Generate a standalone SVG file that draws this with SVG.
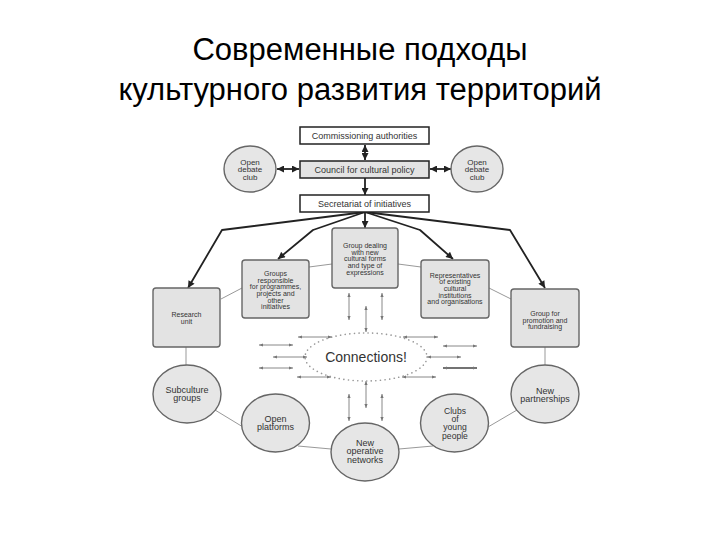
<svg xmlns="http://www.w3.org/2000/svg" width="720" height="540" viewBox="0 0 720 540">
<style>
.title{font-family:"Liberation Sans",Arial,sans-serif;font-size:31px;fill:#000;text-anchor:middle}
.tb{fill:#fff;stroke:#222;stroke-width:1.5}
.tg{fill:#e3e3e3;stroke:#222;stroke-width:1.5}
.gb{fill:#e3e3e3;stroke:#666;stroke-width:1.4}
.ge{fill:#e6e6e6;stroke:#666;stroke-width:1.4}
.t9{font-family:"Liberation Sans",Arial,sans-serif;font-size:9px;fill:#333;text-anchor:middle}
.t8{font-family:"Liberation Sans",Arial,sans-serif;font-size:8px;fill:#333;text-anchor:middle}
.t7{font-family:"Liberation Sans",Arial,sans-serif;font-size:7px;fill:#333;text-anchor:middle}
.tc{font-family:"Liberation Sans",Arial,sans-serif;font-size:14px;fill:#333;text-anchor:middle}
.thick{fill:none;stroke:#222;stroke-width:1.8;stroke-linejoin:round}
.thin{fill:none;stroke:#999;stroke-width:1}
.sm{fill:none;stroke:#888;stroke-width:1}
.dot{fill:none;stroke:#999;stroke-width:1.6;stroke-dasharray:0.1 4.5;stroke-linecap:round}
</style>
<defs>
<marker id="ah" viewBox="0 0 10 10" refX="10" refY="5" markerWidth="8" markerHeight="7" markerUnits="userSpaceOnUse" orient="auto-start-reverse"><path d="M0,0 L10,5 L0,10 z" fill="#222"/></marker>
<marker id="sh" viewBox="0 0 10 10" refX="10" refY="5" markerWidth="5" markerHeight="4" markerUnits="userSpaceOnUse" orient="auto-start-reverse"><path d="M0,1 L10,5 L0,9 z" fill="#777"/></marker>
</defs>
<rect width="720" height="540" fill="#fff"/>
<text class="title" x="360" y="60">Современные подходы</text>
<text class="title" x="360" y="100">культурного развития территорий</text>

<g id="connectors">
<line class="thick" x1="365" y1="145" x2="365" y2="160" marker-start="url(#ah)" marker-end="url(#ah)"/>
<line class="thick" x1="365" y1="178" x2="365" y2="195" marker-end="url(#ah)"/>
<line class="thick" x1="365" y1="212" x2="365" y2="228" marker-end="url(#ah)"/>
<line class="thick" x1="277" y1="169" x2="299" y2="169" marker-start="url(#ah)" marker-end="url(#ah)"/>
<line class="thick" x1="430" y1="169" x2="451" y2="169" marker-start="url(#ah)" marker-end="url(#ah)"/>
<polyline class="thick" points="365,212 222,230 188,288" marker-end="url(#ah)"/>
<polyline class="thick" points="365,212 313,230 278,259" marker-end="url(#ah)"/>
<polyline class="thick" points="365,212 420,230 453,259" marker-end="url(#ah)"/>
<polyline class="thick" points="365,212 510,230 545,288" marker-end="url(#ah)"/>
<line class="thin" x1="221" y1="299" x2="242" y2="288"/>
<line class="thin" x1="309" y1="267" x2="332" y2="264"/>
<line class="thin" x1="398" y1="264" x2="421" y2="267"/>
<line class="thin" x1="489" y1="288" x2="511" y2="299"/>
<line class="thin" x1="186" y1="347" x2="186" y2="365"/>
<line class="thin" x1="545" y1="347" x2="545" y2="365"/>
<line class="thin" x1="215" y1="410" x2="243" y2="427"/>
<line class="thin" x1="298" y1="446" x2="331" y2="449"/>
<line class="thin" x1="399" y1="449" x2="433" y2="446"/>
<line class="thin" x1="488" y1="427" x2="517" y2="410"/>
<g class="sm">
<line x1="349" y1="293" x2="349" y2="320" marker-start="url(#sh)" marker-end="url(#sh)"/>
<line x1="366" y1="306" x2="366" y2="332" marker-start="url(#sh)" marker-end="url(#sh)"/>
<line x1="382" y1="293" x2="382" y2="320" marker-start="url(#sh)" marker-end="url(#sh)"/>
<line x1="349" y1="394" x2="349" y2="421" marker-start="url(#sh)" marker-end="url(#sh)"/>
<line x1="366" y1="381" x2="366" y2="408" marker-start="url(#sh)" marker-end="url(#sh)"/>
<line x1="382" y1="394" x2="382" y2="421" marker-start="url(#sh)" marker-end="url(#sh)"/>
<line x1="298" y1="337" x2="332" y2="337" marker-start="url(#sh)" marker-end="url(#sh)"/>
<line x1="259" y1="345" x2="293" y2="345" marker-start="url(#sh)" marker-end="url(#sh)"/>
<line x1="273" y1="357" x2="307" y2="357" marker-start="url(#sh)" marker-end="url(#sh)"/>
<line x1="259" y1="368" x2="293" y2="368" marker-start="url(#sh)" marker-end="url(#sh)"/>
<line x1="297" y1="377" x2="331" y2="377" marker-start="url(#sh)" marker-end="url(#sh)"/>
<line x1="403" y1="337" x2="438" y2="337" marker-start="url(#sh)" marker-end="url(#sh)"/>
<line x1="443" y1="346" x2="477" y2="346" marker-start="url(#sh)" marker-end="url(#sh)"/>
<line x1="427" y1="357" x2="461" y2="357" marker-start="url(#sh)" marker-end="url(#sh)"/>
<line x1="443" y1="368" x2="477" y2="368" marker-start="url(#sh)" marker-end="url(#sh)" stroke="#444" stroke-width="1.4"/>
<line x1="402" y1="377" x2="436" y2="377" marker-start="url(#sh)" marker-end="url(#sh)"/>
</g>
</g>

<g id="n-commissioning"><rect class="tb" x="300" y="127" width="129" height="17"/><text class="t9" x="364.5" y="138.5">Commissioning authorities</text></g>
<g id="n-council"><rect class="tg" x="300" y="161" width="129" height="17"/><text class="t9" x="364.5" y="172.5">Council for cultural policy</text></g>
<g id="n-secretariat"><rect class="tb" x="300" y="195" width="129" height="17"/><text class="t9" x="364.5" y="206.5">Secretariat of initiatives</text></g>
<g id="n-debate-left"><ellipse class="ge" cx="250" cy="169" rx="26" ry="23"/><text class="t8"><tspan x="250" y="164.5">Open</tspan><tspan x="250" y="172.3">debate</tspan><tspan x="250" y="180.1">club</tspan></text></g>
<g id="n-debate-right"><ellipse class="ge" cx="477" cy="169" rx="26" ry="23"/><text class="t8"><tspan x="477" y="164.5">Open</tspan><tspan x="477" y="172.3">debate</tspan><tspan x="477" y="180.1">club</tspan></text></g>

<g id="n-group-dealing"><rect class="gb" x="332" y="228" width="66" height="60" rx="3"/><text class="t7"><tspan x="365" y="248">Group dealing</tspan><tspan x="365" y="254.7">with new</tspan><tspan x="365" y="261.4">cultural forms</tspan><tspan x="365" y="268.1">and type of</tspan><tspan x="365" y="274.8">expressions</tspan></text></g>
<g id="n-groups-responsible"><rect class="gb" x="242" y="260" width="67" height="58" rx="3"/><text class="t7"><tspan x="275.5" y="275.8">Groups</tspan><tspan x="275.5" y="282.5">responsible</tspan><tspan x="275.5" y="289.2">for programmes,</tspan><tspan x="275.5" y="295.9">projects and</tspan><tspan x="275.5" y="302.6">other</tspan><tspan x="275.5" y="309.3">initiatives</tspan></text></g>
<g id="n-research"><rect class="gb" x="153" y="288" width="67" height="59" rx="3"/><text class="t7"><tspan x="186.5" y="316.8">Research</tspan><tspan x="186.5" y="323.5">unit</tspan></text></g>
<g id="n-representatives"><rect class="gb" x="421" y="260" width="68" height="58" rx="3"/><text class="t7"><tspan x="455" y="277.5">Representatives</tspan><tspan x="455" y="284.2">of existing</tspan><tspan x="455" y="290.9">cultural</tspan><tspan x="455" y="297.6">institutions</tspan><tspan x="455" y="304.3">and organisations</tspan></text></g>
<g id="n-promotion"><rect class="gb" x="511" y="289" width="68" height="58" rx="3"/><text class="t7"><tspan x="545" y="315.8">Group for</tspan><tspan x="545" y="322.5">promotion and</tspan><tspan x="545" y="329.2">fundraising</tspan></text></g>

<g id="n-connections"><ellipse class="dot" cx="366" cy="357" rx="61" ry="24"/><text class="tc" x="366" y="362">Connections!</text></g>

<g id="n-subculture"><ellipse class="ge" cx="187" cy="394" rx="34" ry="29"/><text class="t9"><tspan x="187" y="392.5">Subculture</tspan><tspan x="187" y="401">groups</tspan></text></g>
<g id="n-open-platforms"><ellipse class="ge" cx="275.5" cy="423" rx="34" ry="29"/><text class="t9"><tspan x="275.5" y="421.5">Open</tspan><tspan x="275.5" y="430">platforms</tspan></text></g>
<g id="n-operative"><ellipse class="ge" cx="365" cy="452" rx="34" ry="29"/><text class="t9"><tspan x="365" y="446">New</tspan><tspan x="365" y="454.3">operative</tspan><tspan x="365" y="462.6">networks</tspan></text></g>
<g id="n-clubs"><ellipse class="ge" cx="454.5" cy="423" rx="34" ry="29"/><text class="t9" style="font-size:8.6px"><tspan x="455" y="414">Clubs</tspan><tspan x="455" y="422.2">of</tspan><tspan x="455" y="430.4">young</tspan><tspan x="455" y="438.6">people</tspan></text></g>
<g id="n-partnerships"><ellipse class="ge" cx="545" cy="394" rx="34" ry="29"/><text class="t9"><tspan x="545" y="394">New</tspan><tspan x="545" y="402.3">partnerships</tspan></text></g>
</svg>
